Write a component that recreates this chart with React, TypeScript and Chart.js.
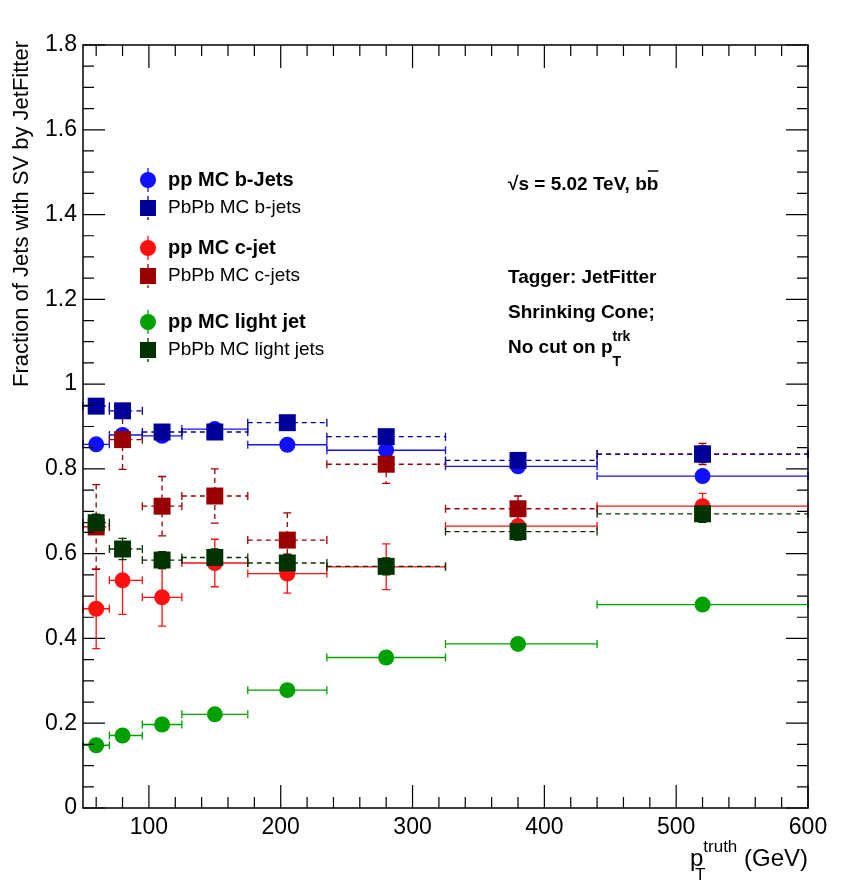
import React, { useEffect, useRef } from "react";
import { Chart, registerables } from "chart.js";
Chart.register(...registerables);

const binEdges = [50, 70, 95, 125, 175, 235, 325, 440, 600];
const binCenters = [60, 80, 110, 150, 205, 280, 380, 520];

const ppB = [0.858, 0.880, 0.878, 0.894, 0.857, 0.844, 0.806, 0.783];
const ppBErr = [0.008, 0.008, 0.008, 0.008, 0.008, 0.01, 0.012, 0.012];
const pbB = [0.948, 0.937, 0.887, 0.887, 0.909, 0.876, 0.820, 0.835];
const pbBErr = [0.01, 0.01, 0.01, 0.01, 0.01, 0.012, 0.015, 0.02];
const ppC = [0.470, 0.537, 0.497, 0.578, 0.553, 0.569, 0.665, 0.712];
const ppCErr = [0.094, 0.08, 0.068, 0.056, 0.046, 0.054, 0.03, 0.03];
const pbC = [0.663, 0.869, 0.712, 0.736, 0.632, 0.811, 0.706, 0.835];
const pbCErr = [0.1, 0.07, 0.07, 0.064, 0.064, 0.045, 0.03, 0.025];
const ppL = [0.148, 0.171, 0.197, 0.221, 0.278, 0.355, 0.387, 0.480];
const ppLErr = [0.012, 0.008, 0.007, 0.007, 0.007, 0.007, 0.007, 0.008];
const pbL = [0.673, 0.611, 0.585, 0.591, 0.578, 0.570, 0.652, 0.694];
const pbLErr = [0.02, 0.025, 0.02, 0.02, 0.02, 0.02, 0.02, 0.02];

const xTicks = [100, 200, 300, 400, 500, 600];
const yTicks = [0, 0.2, 0.4, 0.6, 0.8, 1, 1.2, 1.4, 1.6, 1.8];

type S = { label: string; y: number[]; e: number[]; color: string; square: boolean; dashed: boolean; bold: boolean };
const series: S[] = [
  { label: "pp MC light jet", y: ppL, e: ppLErr, color: "#00a000", square: false, dashed: false, bold: true },
  { label: "pp MC c-jet", y: ppC, e: ppCErr, color: "#ff1010", square: false, dashed: false, bold: true },
  { label: "pp MC b-Jets", y: ppB, e: ppBErr, color: "#1010ff", square: false, dashed: false, bold: true },
  { label: "PbPb MC c-jets", y: pbC, e: pbCErr, color: "#990000", square: true, dashed: true, bold: false },
  { label: "PbPb MC b-jets", y: pbB, e: pbBErr, color: "#000099", square: true, dashed: true, bold: false },
  { label: "PbPb MC light jets", y: pbL, e: pbLErr, color: "#003300", square: true, dashed: true, bold: false },
];
const legendOrder = ["pp MC b-Jets", "PbPb MC b-jets", "pp MC c-jet", "PbPb MC c-jets", "pp MC light jet", "PbPb MC light jets"];
const legendY = [180, 208, 248, 276, 322, 350];

const FONT = "'Liberation Sans', Arial, sans-serif";

const drawPlugin = {
  id: "rootStyle",
  beforeDatasetsDraw(chart: any) {
    const ctx = chart.ctx;
    const xs = chart.scales.x, ys = chart.scales.y;
    ctx.save();
    series.forEach((s) => {
      ctx.strokeStyle = s.color;
      ctx.lineWidth = 1.3;
      s.y.forEach((v, i) => {
        const x0 = xs.getPixelForValue(binEdges[i]);
        const x1 = xs.getPixelForValue(binEdges[i + 1]);
        const xc = xs.getPixelForValue(binCenters[i]);
        const yc = ys.getPixelForValue(v);
        const ya = ys.getPixelForValue(v + s.e[i]);
        const yb = ys.getPixelForValue(v - s.e[i]);
        ctx.setLineDash(s.dashed ? [5, 4] : []);
        ctx.beginPath();
        ctx.moveTo(x0, yc); ctx.lineTo(x1, yc);
        ctx.moveTo(xc, ya); ctx.lineTo(xc, yb);
        ctx.stroke();
        ctx.setLineDash([]);
        ctx.beginPath();
        ctx.moveTo(x0, yc - 4); ctx.lineTo(x0, yc + 4);
        ctx.moveTo(x1, yc - 4); ctx.lineTo(x1, yc + 4);
        ctx.moveTo(xc - 4, ya); ctx.lineTo(xc + 4, ya);
        ctx.moveTo(xc - 4, yb); ctx.lineTo(xc + 4, yb);
        ctx.stroke();
      });
    });
    ctx.restore();
  },
  afterDraw(chart: any) {
    const ctx = chart.ctx;
    const xs = chart.scales.x, ys = chart.scales.y;
    const a = chart.chartArea;
    ctx.save();
    ctx.strokeStyle = "#000";
    ctx.lineWidth = 1.5;
    ctx.strokeRect(a.left, a.top, a.right - a.left, a.bottom - a.top);
    ctx.lineWidth = 1.2;
    ctx.beginPath();
    for (let v = 60; v <= 600; v += 20) {
      const x = xs.getPixelForValue(v);
      const L = v % 100 === 0 ? 23 : 11;
      ctx.moveTo(x, a.bottom); ctx.lineTo(x, a.bottom - L);
      ctx.moveTo(x, a.top); ctx.lineTo(x, a.top + L);
    }
    for (let k = 0; k <= 36; k++) {
      const y = ys.getPixelForValue(k * 0.05);
      const L = k % 4 === 0 ? 22 : 11;
      ctx.moveTo(a.left, y); ctx.lineTo(a.left + L, y);
      ctx.moveTo(a.right, y); ctx.lineTo(a.right - L, y);
    }
    ctx.stroke();
    ctx.fillStyle = "#000";
    ctx.font = `23px ${FONT}`;
    ctx.textAlign = "center"; ctx.textBaseline = "top";
    xTicks.forEach((v) => ctx.fillText(String(v), xs.getPixelForValue(v), a.bottom + 8));
    ctx.textAlign = "right"; ctx.textBaseline = "middle";
    yTicks.forEach((v) => ctx.fillText(v === 0 || v === 1 ? String(v) : v.toFixed(1), a.left - 6, ys.getPixelForValue(v)));
    ctx.save();
    ctx.translate(22, a.top - 4);
    ctx.rotate(-Math.PI / 2);
    ctx.textAlign = "right"; ctx.textBaseline = "middle";
    ctx.font = `22px ${FONT}`;
    ctx.fillText("Fraction of Jets with SV by JetFitter", 0, 0);
    ctx.restore();
    ctx.textBaseline = "alphabetic"; ctx.textAlign = "right";
    ctx.font = `24px ${FONT}`;
    ctx.fillText("(GeV)", a.right, 866);
    const gw = ctx.measureText(" (GeV)").width;
    ctx.font = `17px ${FONT}`;
    const tw = ctx.measureText("truth").width;
    ctx.fillText("truth", a.right - gw, 852);
    ctx.fillText("T", a.right - gw - tw + 2, 880);
    ctx.font = `24px ${FONT}`;
    ctx.fillText("p", a.right - gw - tw, 866);
    legendOrder.forEach((name, i) => {
      const s = series.find((q) => q.label === name)!;
      const y = legendY[i];
      const x = 148;
      ctx.strokeStyle = s.color; ctx.fillStyle = s.color; ctx.lineWidth = 1.3;
      ctx.setLineDash(s.dashed ? [4, 3] : []);
      ctx.beginPath(); ctx.moveTo(x, y - 12); ctx.lineTo(x, y + 12); ctx.stroke();
      ctx.setLineDash([]);
      if (s.square) ctx.fillRect(x - 8, y - 8, 16, 16);
      else { ctx.beginPath(); ctx.arc(x, y, 8, 0, Math.PI * 2); ctx.fill(); }
      ctx.fillStyle = "#000";
      ctx.textAlign = "left"; ctx.textBaseline = "middle";
      ctx.font = s.bold ? `bold 20px ${FONT}` : `19px ${FONT}`;
      ctx.fillText(name, 168, y);
    });
    ctx.font = `bold 19px ${FONT}`;
    ctx.textAlign = "left"; ctx.textBaseline = "alphabetic";
    ctx.fillText("\u221As = 5.02 TeV, b", 508, 190);
    let w = ctx.measureText("\u221As = 5.02 TeV, b").width;
    ctx.fillText("b", 508 + w, 190);
    const bw = ctx.measureText("b").width;
    ctx.lineWidth = 1.5; ctx.strokeStyle = "#000";
    ctx.beginPath(); ctx.moveTo(508 + w + 1, 171); ctx.lineTo(508 + w + bw, 171); ctx.stroke();
    ctx.fillText("Tagger: JetFitter", 508, 283);
    ctx.fillText("Shrinking Cone;", 508, 318);
    ctx.fillText("No cut on p", 508, 353);
    w = ctx.measureText("No cut on p").width;
    ctx.font = `bold 14px ${FONT}`;
    ctx.fillText("trk", 508 + w, 341);
    ctx.fillText("T", 508 + w, 366);
    ctx.restore();
  },
};

export default function App() {
  const ref = useRef<HTMLCanvasElement>(null);
  useEffect(() => {
    const chart = new Chart(ref.current!, {
      type: "scatter",
      data: {
        // Chart.js paints dataset 0 last (on top), so reverse to keep squares above circles
        datasets: series.slice().reverse().map((s) => ({
          label: s.label,
          data: binCenters.map((x, i) => ({ x, y: s.y[i] })),
          backgroundColor: s.color,
          borderColor: s.color,
          pointStyle: s.square ? "rect" : "circle",
          pointRadius: s.square ? 12 : 8,
          borderWidth: 0,
        })),
      },
      options: {
        animation: false,
        responsive: false,
        events: [],
        layout: { padding: { left: 83, right: 38, top: 45, bottom: 85 } },
        plugins: { legend: { display: false }, tooltip: { enabled: false } },
        scales: {
          x: { type: "linear", min: 50, max: 600, display: false },
          y: { type: "linear", min: 0, max: 1.8, display: false },
        },
      },
      plugins: [drawPlugin],
    });
    return () => chart.destroy();
  }, []);
  return (
    <div style={{ position: "absolute", left: 0, top: 0, background: "#fff" }}>
      <canvas ref={ref} width={846} height={893} style={{ width: 846, height: 893, display: "block" }} />
    </div>
  );
}
